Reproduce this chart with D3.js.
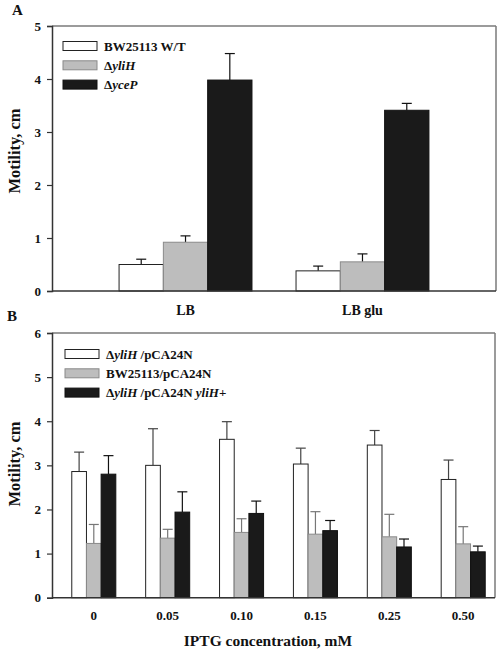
<!DOCTYPE html>
<html><head><meta charset="utf-8">
<script src="https://cdn.jsdelivr.net/npm/d3@7"></script>
<style>body{margin:0;background:#fff}svg{display:block;font-family:"Liberation Serif","Times New Roman",serif;font-weight:bold}</style>
</head><body>
<script>
// Panel A data
const catsA = ["LB", "LB glu"];
const seriesA = ["BW25113 W/T", "ΔyliH", "ΔyceP"];
const meanA = {
  "BW25113 W/T": [0.50, 0.38],
  "ΔyliH": [0.92, 0.55],
  "ΔyceP": [3.98, 3.41]
};
const errA = {
  "BW25113 W/T": [0.10, 0.09],
  "ΔyliH": [0.12, 0.15],
  "ΔyceP": [0.50, 0.13]
};
const ticksA = [0, 1, 2, 3, 4, 5];

// Panel B data
const catsB = ["0", "0.05", "0.10", "0.15", "0.25", "0.50"];
const seriesB = ["ΔyliH/pCA24N", "BW25113/pCA24N", "ΔyliH/pCA24N yliH+"];
const meanB = {
  "ΔyliH/pCA24N": [2.86, 3.00, 3.59, 3.03, 3.46, 2.68],
  "BW25113/pCA24N": [1.23, 1.35, 1.48, 1.44, 1.38, 1.22],
  "ΔyliH/pCA24N yliH+": [2.80, 1.94, 1.91, 1.52, 1.15, 1.04]
};
const errB = {
  "ΔyliH/pCA24N": [0.44, 0.83, 0.40, 0.36, 0.33, 0.44],
  "BW25113/pCA24N": [0.43, 0.20, 0.31, 0.51, 0.51, 0.39],
  "ΔyliH/pCA24N yliH+": [0.42, 0.46, 0.28, 0.23, 0.18, 0.13]
};
const ticksB = [0, 1, 2, 3, 4, 5, 6];

const fills = ["#ffffff", "#bdbdbd", "#1a1a1a"];
const strokes = ["#222", "#8a8a8a", "#111"];

const svg = d3.select("body").append("svg").attr("width", 500).attr("height", 651);

// legend label pieces: [text, italic]
const legA = [
  [["BW25113 W/T", false]],
  [["Δ", false], ["yliH", true]],
  [["Δ", false], ["yceP", true]]
];
const legB = [
  [["Δ", false], ["yliH", true], [" /pCA24N", false]],
  [["BW25113/pCA24N", false]],
  [["Δ", false], ["yliH", true], [" /pCA24N ", false], ["yliH", true], ["+", false]]
];

function panel(cfg) {
  const g = svg.append("g");
  const x0 = cfg.left, x1 = cfg.right, yTop = cfg.top, yBot = cfg.bottom;
  const y = d3.scaleLinear().domain([0, cfg.ymax]).range([yBot, yTop]);
  const xb = d3.scaleBand().domain(cfg.cats).range(cfg.bandRange).paddingInner(cfg.padIn).paddingOuter(cfg.padOut);
  const xs = d3.scaleBand().domain(cfg.series).range([0, xb.bandwidth()]);

  // frame top/right grey
  g.append("line").attr("x1", x0).attr("x2", x1).attr("y1", yTop).attr("y2", yTop).attr("stroke", "#7a7a7a").attr("stroke-width", 1.5);
  g.append("line").attr("x1", x1).attr("x2", x1).attr("y1", yTop).attr("y2", yBot).attr("stroke", "#7a7a7a").attr("stroke-width", 1.5);

  // bars
  cfg.series.forEach((s, i) => {
    cfg.cats.forEach((c, j) => {
      const v = cfg.mean[s][j], e = cfg.err[s][j];
      const bx = xb(c) + xs(s), bw = xs.bandwidth();
      const cx = bx + bw / 2;
      const ec = cfg.errCol ? cfg.errCol[i] : "#111";
      g.append("line").attr("x1", cx).attr("x2", cx).attr("y1", y(v)).attr("y2", y(v + e)).attr("stroke", ec).attr("stroke-width", 1.2);
      g.append("line").attr("x1", cx - cfg.cap).attr("x2", cx + cfg.cap).attr("y1", y(v + e)).attr("y2", y(v + e)).attr("stroke", ec).attr("stroke-width", 1.2);
      g.append("rect").attr("x", bx).attr("y", y(v)).attr("width", bw).attr("height", yBot - y(v))
        .attr("fill", fills[i]).attr("stroke", strokes[i]).attr("stroke-width", 1);
    });
  });

  // y axis
  const ax = g.append("g").attr("transform", `translate(${x0},0)`)
    .call(d3.axisLeft(y).tickValues(cfg.ticks).tickFormat(d3.format("d")).tickSize(5).tickPadding(6));
  ax.select(".domain").attr("stroke", "#333").attr("stroke-width", 1.5);
  ax.selectAll(".tick line").attr("stroke", "#333").attr("stroke-width", 1.2);
  ax.selectAll("text").attr("font-family", "Liberation Serif").attr("font-weight", "bold").attr("font-size", 13).attr("fill", "#111");

  // x baseline
  g.append("line").attr("x1", x0).attr("x2", x1).attr("y1", yBot).attr("y2", yBot).attr("stroke", "#333").attr("stroke-width", 1.5);

  // x labels
  cfg.cats.forEach(c => {
    g.append("text").attr("x", xb(c) + xb.bandwidth() / 2).attr("y", yBot + cfg.xlabDy)
      .attr("text-anchor", "middle").attr("font-size", cfg.xlabSize).attr("fill", "#111").text(c);
  });

  // y title
  g.append("text").attr("transform", `translate(${cfg.ytitleX},${cfg.ytitleY}) rotate(-90)`)
    .attr("text-anchor", "middle").attr("font-size", 16.5).attr("fill", "#111").text("Motility, cm");

  // legend
  cfg.leg.forEach((parts, i) => {
    const ly = cfg.legY + i * cfg.legStep;
    g.append("rect").attr("x", cfg.legX).attr("y", ly - 4.5).attr("width", 34).attr("height", 9)
      .attr("fill", fills[i]).attr("stroke", strokes[i]).attr("stroke-width", 1);
    const t = g.append("text").attr("x", cfg.legX + 41).attr("y", ly + 4.5).attr("font-size", 13).attr("fill", "#111");
    parts.forEach(p => {
      t.append("tspan").attr("font-style", p[1] ? "italic" : "normal").text(p[0]);
    });
  });

  // panel letter
  g.append("text").attr("x", cfg.letterX).attr("y", cfg.letterY).attr("font-size", 15).attr("fill", "#111").text(cfg.letter);
}

panel({
  letter: "A", letterX: 12, letterY: 15,
  left: 52, right: 496, top: 26, bottom: 291, ymax: 5,
  cats: catsA, series: seriesA, mean: meanA, err: errA, ticks: ticksA,
  bandRange: [52, 496], padIn: 0.249, padOut: 0.379,
  cap: 5, xlabDy: 24, xlabSize: 14, ytitleX: 20, ytitleY: 151,
  leg: legA, legX: 63, legY: 46, legStep: 19.3
});

panel({
  letter: "B", letterX: 7, letterY: 321,
  left: 52, right: 495, top: 333, bottom: 597.7, ymax: 6,
  cats: catsB, series: seriesB, mean: meanB, err: errB, ticks: ticksB,
  bandRange: [57, 500], padIn: 0.404, padOut: 0.2,
  cap: 5, xlabDy: 22, xlabSize: 13, ytitleX: 20, ytitleY: 464,
  errCol: ["#444", "#777", "#111"],
  leg: legB, legX: 65, legY: 354, legStep: 19.3
});

svg.append("text").attr("x", 268).attr("y", 646).attr("text-anchor", "middle").attr("font-size", 15.5).attr("fill", "#111").text("IPTG concentration, mM");
</script>
</body></html>
